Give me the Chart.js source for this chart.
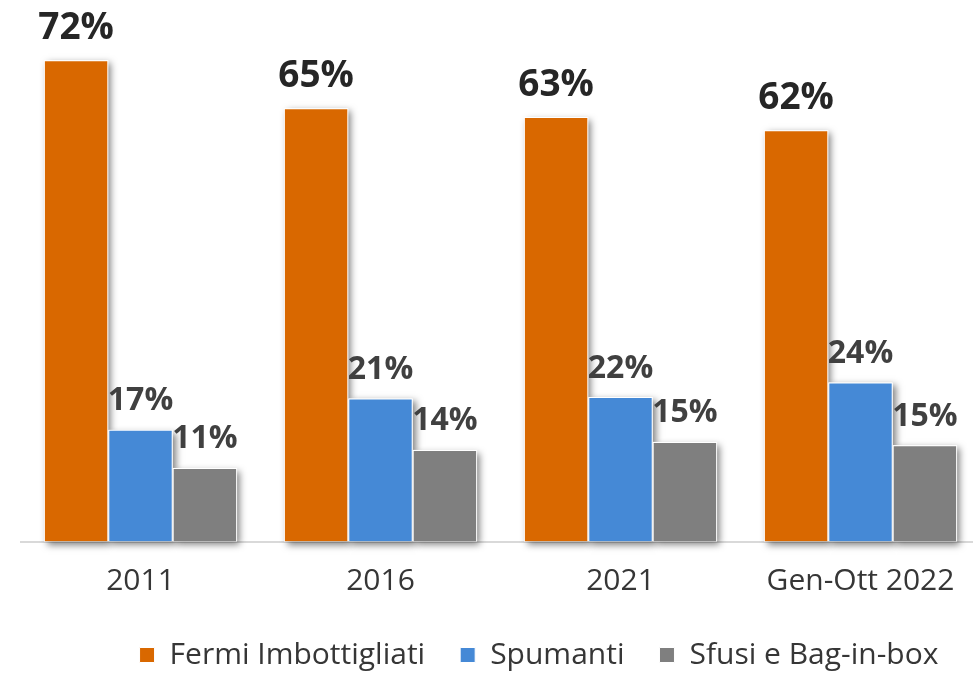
<!DOCTYPE html>
<html><head><meta charset="utf-8">
<script src="https://cdn.jsdelivr.net/npm/chart.js@4/dist/chart.umd.min.js"></script>
<style>
html,body{margin:0;padding:0;overflow:hidden;background:#fff;width:973px;height:673px}
#wrap{width:981px;height:680px;position:relative}
canvas{display:block}
</style></head><body>
<div id="wrap"><canvas id="c" width="981" height="680" style="width:981px;height:680px"></canvas></div>
<script>
const categories = ['2011', '2016', '2021', 'Gen-Ott 2022'];
const seriesNames = ['Fermi Imbottigliati', 'Spumanti', 'Sfusi e Bag-in-box'];
const fermi = [72.0, 64.8, 63.5, 61.5];
const spumanti = [16.7, 21.4, 21.6, 23.8];
const sfusi = [11.0, 13.7, 14.9, 14.4];
const fermiLabels = ['72%', '65%', '63%', '62%'];
const spumantiLabels = ['17%', '21%', '22%', '24%'];
const sfusiLabels = ['11%', '14%', '15%', '15%'];

const colors = ['#D96800', '#4589D6', '#7F7F7F'];
const valueLabels = [fermiLabels, spumantiLabels, sfusiLabels];
const FONT = "'Open Sans', 'DejaVu Sans', sans-serif";

const shadowPlugin = {
  id: 'barShadow',
  beforeDatasetsDraw(chart) {
    const ctx = chart.ctx;
    ctx.save();
    chart.data.datasets.forEach((ds, i) => {
      const meta = chart.getDatasetMeta(i);
      meta.data.forEach(el => {
        const p = el.getProps(['x', 'y', 'base', 'width'], true);
        ctx.save();
        ctx.shadowColor = 'rgba(0,0,0,0.5)';
        ctx.shadowBlur = 7;
        ctx.shadowOffsetX = 3;
        ctx.shadowOffsetY = 3;
        ctx.fillStyle = '#ffffff';
        ctx.fillRect(p.x - p.width / 2, p.y, p.width, p.base - p.y);
        ctx.restore();
      });
    });
    ctx.restore();
  }
};

const labelPlugin = {
  id: 'valueLabels',
  afterDatasetsDraw(chart) {
    const ctx = chart.ctx;
    ctx.save();
    ctx.textAlign = 'center';
    ctx.textBaseline = 'alphabetic';
    chart.data.datasets.forEach((ds, i) => {
      const meta = chart.getDatasetMeta(i);
      const big = i === 0;
      ctx.font = 'bold ' + (big ? 37 : 32) + 'px ' + FONT;
      ctx.fillStyle = big ? '#262626' : '#404040';
      meta.data.forEach((el, j) => {
        const p = el.getProps(['x', 'y'], true);
        ctx.fillText(valueLabels[i][j], p.x, p.y - (big ? 21 : 19.5));
      });
    });
    ctx.restore();
  }
};

const legendShift = {
  id: 'legendShift',
  afterLayout(chart) {
    const lg = chart.legend;
    if (lg) { lg.left += 38.5; lg.right += 38.5; }
  }
};

new Chart(document.getElementById('c'), {
  type: 'bar',
  data: {
    labels: categories,
    datasets: [
      { label: seriesNames[0], data: fermi, backgroundColor: colors[0] },
      { label: seriesNames[1], data: spumanti, backgroundColor: colors[1] },
      { label: seriesNames[2], data: sfusi, backgroundColor: colors[2] }
    ]
  },
  options: {
    responsive: false,
    animation: false,
    events: [],
    datasets: {
      bar: { categoryPercentage: 0.805, barPercentage: 1.0, borderColor: '#ffffff', borderWidth: 1 }
    },
    layout: { padding: { left: 20.5, right: 0.5, top: 0, bottom: 0 } },
    scales: {
      x: {
        grid: { display: false },
        border: { display: true, color: '#d9d9d9', width: 2 },
        ticks: { color: '#363636', font: { family: FONT, size: 30 }, padding: 14 },
        afterFit(scale) { scale.height = 63.5; }
      },
      y: {
        display: false,
        min: 0,
        max: 81
      }
    },
    plugins: {
      legend: {
        position: 'bottom',
        labels: {
          color: '#363636',
          font: { family: FONT, size: 30 },
          boxWidth: 15, boxHeight: 15, padding: 35
        }
      },
      tooltip: { enabled: false }
    }
  },
  plugins: [shadowPlugin, labelPlugin, legendShift]
});
</script>
</body></html>
